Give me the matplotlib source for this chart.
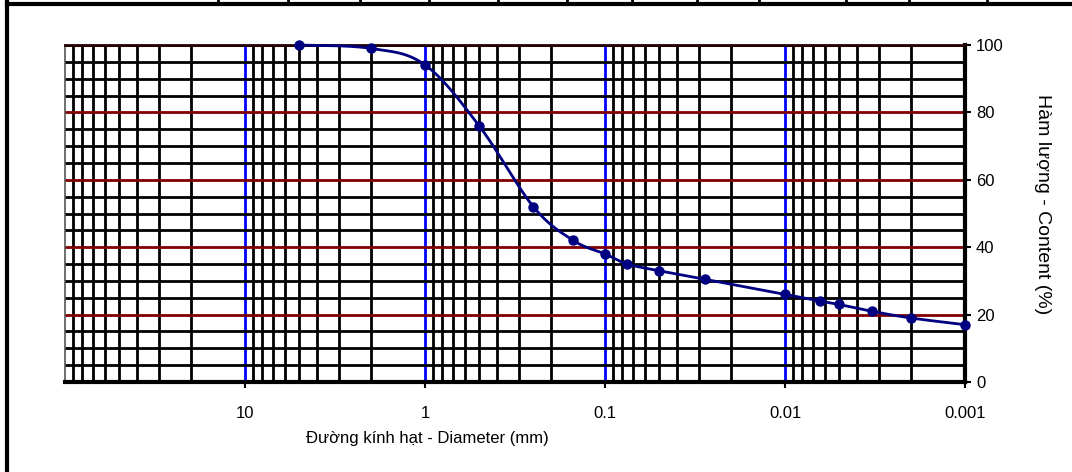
import numpy as np
import matplotlib
matplotlib.use("Agg")
import matplotlib.pyplot as plt
from matplotlib.lines import Line2D
from matplotlib.ticker import FixedLocator, NullFormatter

plt.rcParams['font.family'] = ['Liberation Sans', 'DejaVu Sans']

# grain size distribution (diameter in mm, passing content in %)
diameter = [5.0, 2.0, 1.0, 0.5, 0.25, 0.15, 0.1, 0.075, 0.05, 0.028,
            0.01, 0.0064, 0.005, 0.0033, 0.002, 0.001]
content = [100.0, 99.0, 94.1, 76.0, 52.0, 42.0, 38.0, 35.0, 33.0, 30.5,
           26.0, 24.0, 23.0, 21.0, 19.0, 17.0]

xtick_values = [10, 1, 0.1, 0.01, 0.001]
xtick_labels = ['10', '1', '0.1', '0.01', '0.001']
ytick_values = [0, 20, 40, 60, 80, 100]

xlabel = 'Đường kính hạt - Diameter (mm)'
ylabel = 'Hàm lượng - Content (%)'

# table dividers left over from the sheet above the chart (pixel x)
table_cols = [218, 288, 360, 429, 498, 567, 632, 697, 759, 846, 909, 987]


def smooth(xs, ys, n=30):
    # excel style smoothed line (catmull-rom bezier) in log-x space
    u = np.log10(xs)
    v = np.asarray(ys, dtype=float)
    pu = np.concatenate([[u[0]], u, [u[-1]]])
    pv = np.concatenate([[v[0]], v, [v[-1]]])
    t = np.linspace(0, 1, n)
    out_u, out_v = [], []
    for i in range(1, len(pu) - 2):
        p0 = np.array([pu[i], pv[i]])
        p3 = np.array([pu[i + 1], pv[i + 1]])
        b1 = p0 + (p3 - np.array([pu[i - 1], pv[i - 1]])) / 6
        b2 = p3 - (np.array([pu[i + 2], pv[i + 2]]) - p0) / 6
        pts = ((1 - t) ** 3)[:, None] * p0 + (3 * (1 - t) ** 2 * t)[:, None] * b1 \
            + (3 * (1 - t) * t ** 2)[:, None] * b2 + (t ** 3)[:, None] * p3
        out_u.extend(pts[:, 0])
        out_v.extend(pts[:, 1])
    return 10 ** np.array(out_u), np.array(out_v)


W, H = 1072, 472
fig = plt.figure(figsize=(W / 100, H / 100), dpi=100)
ax = fig.add_axes([65 / W, (H - 382) / H, 900 / W, 337 / H])

ax.set_xscale('log')
ax.set_xlim(100, 0.001)
ax.set_ylim(0, 100)

minor_x = [m * 10.0 ** k for k in range(-3, 2) for m in range(2, 10)]
ax.xaxis.set_major_locator(FixedLocator(xtick_values))
ax.xaxis.set_minor_locator(FixedLocator(minor_x))
ax.set_xticklabels(xtick_labels)
ax.xaxis.set_minor_formatter(NullFormatter())
ax.yaxis.set_major_locator(FixedLocator(ytick_values))
ax.yaxis.set_minor_locator(FixedLocator([v for v in range(5, 100, 5) if v % 20]))

ax.grid(which='major', axis='x', color='#0000ff', lw=2)
ax.grid(which='minor', axis='x', color='black', lw=2)
ax.grid(which='major', axis='y', color='#800000', lw=2)
ax.grid(which='minor', axis='y', color='black', lw=2)
ax.set_axisbelow(True)

ax.yaxis.tick_right()
ax.tick_params(which='major', direction='out', length=4.5, width=1.5, color='black',
               labelsize=12)
ax.tick_params(axis='x', which='major', pad=12.5)
ax.tick_params(axis='y', which='major', pad=3.5)
ax.tick_params(which='minor', length=0)

ax.spines['left'].set_linewidth(1.2)
ax.spines['left'].set_color('#555555')
ax.spines['top'].set_linewidth(2)
ax.spines['top'].set_color('#200000')
ax.spines['bottom'].set_linewidth(3)
ax.spines['right'].set_linewidth(3)

sx, sy = smooth(diameter, content)
ax.plot(sx, sy, color='#000080', lw=2, zorder=3, clip_on=False)
ax.plot(diameter, content, 'o', color='#000080', ms=6.5, zorder=4, clip_on=False)

fig.text(427 / W, 1 - 438 / H, xlabel, ha='center', va='center', fontsize=12)
fig.text(1043 / W, 1 - 204 / H, ylabel, ha='center', va='center', rotation=-90,
         fontsize=14)

# outer frame and the cut off table row
fig.add_artist(Line2D([7 / W, 1], [1 - 4 / H, 1 - 4 / H], color='black', lw=3,
                      transform=fig.transFigure))
fig.add_artist(Line2D([7 / W, 7 / W], [0, 1], color='black', lw=3,
                      transform=fig.transFigure))
for c in table_cols:
    fig.add_artist(Line2D([c / W, c / W], [1 - 4 / H, 1], color='black', lw=2,
                          transform=fig.transFigure))

fig.savefig('out.png', dpi=100)
